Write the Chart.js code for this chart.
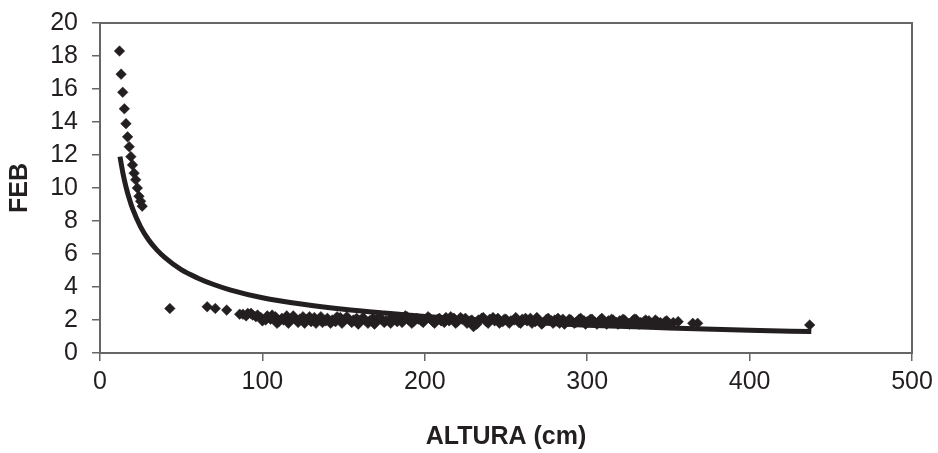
<!DOCTYPE html>
<html>
<head>
<meta charset="utf-8">
<script src="https://cdn.jsdelivr.net/npm/chart.js@4.4.0/dist/chart.umd.min.js"></script>
<style>
  html, body { margin: 0; padding: 0; background: #fff; }
  #wrap { width: 938px; height: 453px; }
</style>
</head>
<body>
<div id="wrap"><canvas id="grafico-feb"></canvas></div>
<script>
// puntos observados (altura en cm, FEB)
const alturaPuntos = [
  12, 13, 14, 15, 16, 17, 18, 19, 20, 21, 22, 23, 24, 25, 26,
  43, 66, 71, 78, 86,
  88, 91, 94, 96, 99, 100, 103, 105, 108, 110, 112, 115, 117, 120, 122, 125, 127, 130, 132, 135,
  137, 140, 143, 145, 148, 150, 153, 155, 158, 160, 163, 165, 168, 170, 173, 175, 178, 180, 183, 185,
  188, 190, 193, 195, 198, 200, 203, 205, 208, 210, 213, 215, 218, 220, 223, 225, 228, 230, 233, 235,
  238, 240, 243, 245, 248, 250, 253, 255, 258, 260, 263, 265, 268, 270, 273, 275, 278, 280, 283, 285,
  288, 290, 293, 295, 298, 300, 303, 305, 308, 310, 313, 315, 318, 320, 323, 325, 328, 330, 333, 335,
  338, 340, 343, 345, 348, 350, 353, 356, 365, 368, 437,
  90, 93, 97, 102, 106, 109, 113, 116, 119, 123, 126, 129, 133, 136, 139, 142, 146, 149, 152, 156,
  159, 162, 166, 169, 172, 176, 179, 182, 186, 189, 192, 196, 199, 202, 206, 209, 212, 216, 219, 222,
  226, 229, 232, 236, 239, 242, 246, 249, 252, 256, 259, 262, 266, 269, 272, 276, 279, 282, 286, 289,
  292, 296, 299, 302, 306, 309, 312, 316, 319, 322, 326, 329, 332, 336, 339, 342, 346, 349
];
const febPuntos = [
  18.3, 16.9, 15.8, 14.8, 13.9, 13.1, 12.5, 11.9, 11.4, 10.9, 10.5, 10.0, 9.5, 9.2, 8.9,
  2.7, 2.8, 2.7, 2.6, 2.35,
  2.35, 2.4, 2.3, 2.2, 2.15, 1.95, 2.25, 2.05, 2.2, 1.9, 2.1, 2.25, 1.95, 2.1, 1.85, 2.2, 2.0, 1.9, 2.15, 2.05,
  1.85, 2.1, 2.0, 1.9, 2.15, 1.95, 2.05, 1.85, 2.1, 1.95, 2.0, 1.8, 2.1, 1.9, 2.05, 1.85, 2.0, 2.15, 1.9, 2.05,
  2.25, 2.0, 1.9, 2.1, 1.95, 2.0, 2.1, 1.9, 2.05, 1.95, 2.15, 1.95, 2.1, 1.9, 2.05, 2.1, 1.95, 1.6, 2.0, 2.1,
  1.9, 2.05, 1.95, 2.1, 1.9, 2.05, 1.95, 2.0, 1.85, 2.05, 1.95, 2.1, 1.9, 2.0, 1.85, 2.05, 1.95, 2.0, 1.8, 2.05,
  1.9, 2.0, 1.85, 2.05, 1.95, 1.9, 2.05, 1.85, 2.0, 1.9, 1.95, 2.05, 1.85, 1.95, 2.0, 1.8, 1.95, 2.05, 1.85, 1.9,
  1.95, 1.8, 1.9, 1.85, 1.9, 1.8, 1.85, 1.9, 1.8, 1.8, 1.7,
  2.25, 2.4, 2.3, 2.0, 2.3, 1.8, 2.0, 1.8, 2.25, 2.05, 1.8, 2.2, 1.8, 2.2, 1.95, 1.8, 2.2, 1.8, 2.2, 2.0,
  1.75, 2.15, 1.95, 1.75, 2.2, 1.95, 1.8, 2.1, 1.85, 2.2, 1.8, 2.05, 1.85, 2.2, 1.8, 2.1, 1.85, 2.2, 1.8, 2.15,
  1.8, 2.0, 1.75, 2.15, 1.8, 2.15, 1.8, 2.05, 1.8, 2.15, 1.8, 2.1, 1.8, 2.15, 1.75, 2.1, 1.8, 2.1, 1.75, 2.05,
  1.8, 2.1, 1.75, 2.05, 1.75, 2.1, 1.75, 2.0, 1.75, 2.05, 1.75, 2.05, 1.75, 2.0, 1.75, 2.0, 1.75, 1.95
];

// curva de ajuste
const alturaCurva = [12.3, 14, 16, 18, 20, 25, 30, 35, 40, 50, 60, 70, 80, 100, 125, 150, 175, 200, 250, 300, 350, 400, 438];
const febCurva = [11.9, 10.96, 10.07, 9.36, 8.76, 7.65, 6.85, 6.25, 5.78, 5.05, 4.55, 4.15, 3.83, 3.35, 2.95, 2.65, 2.42, 2.22, 1.92, 1.68, 1.52, 1.38, 1.3];

// ticks
const ticksX = [0, 100, 200, 300, 400, 500];
const ticksY = [0, 2, 4, 6, 8, 10, 12, 14, 16, 18, 20];

const negro = '#231f20';
const gris = '#666666';
const fuente = 'Liberation Sans, Arial, sans-serif';

const puntos = alturaPuntos.map((x, i) => ({ x: x, y: febPuntos[i] }));
const curva = alturaCurva.map((x, i) => ({ x: x, y: febCurva[i] }));

// marco del area de trazado (arriba y derecha)
const marco = {
  id: 'marco',
  beforeDatasetsDraw(chart) {
    const { ctx, chartArea: a } = chart;
    ctx.save();
    ctx.strokeStyle = gris;
    ctx.lineWidth = 2;
    ctx.strokeRect(a.left, a.top, a.right - a.left, a.bottom - a.top);
    ctx.restore();
  }
};

const ctx = document.getElementById('grafico-feb');
new Chart(ctx, {
  type: 'scatter',
  data: {
    datasets: [
      {
        data: curva,
        showLine: true,
        borderColor: negro,
        borderWidth: 5,
        pointRadius: 0,
        tension: 0.4,
        cubicInterpolationMode: 'monotone'
      },
      {
        data: puntos,
        pointStyle: 'rectRot',
        pointRadius: 5.3,
        backgroundColor: negro,
        borderColor: negro,
        borderWidth: 0.5
      }
    ]
  },
  options: {
    responsive: true,
    maintainAspectRatio: false,
    animation: false,
    events: [],
    layout: { padding: { top: 23, right: 26, left: 0, bottom: 0 } },
    plugins: { legend: { display: false }, tooltip: { enabled: false } },
    scales: {
      x: {
        type: 'linear',
        min: 0,
        max: 500,
        afterFit: s => { s.height = 100; s.paddingLeft = 0; s.paddingRight = 0; },
        afterBuildTicks: s => { s.ticks = ticksX.map(v => ({ value: v })); },
        grid: { drawOnChartArea: false, drawTicks: true, tickLength: 8, color: gris, lineWidth: 1.5 },
        border: { color: gris, width: 2 },
        ticks: { color: negro, padding: 6, maxRotation: 0, autoSkip: false, font: { family: fuente, size: 25 } },
        title: {
          display: true,
          text: 'ALTURA (cm)',
          color: negro,
          padding: { top: 0, bottom: 1 },
          font: { family: fuente, size: 25, weight: 'bold' }
        }
      },
      y: {
        type: 'linear',
        min: 0,
        max: 20,
        afterFit: s => { s.width = 100; s.paddingTop = 0; s.paddingBottom = 0; },
        afterBuildTicks: s => { s.ticks = ticksY.map(v => ({ value: v })); },
        grid: { drawOnChartArea: false, drawTicks: true, tickLength: 8, color: gris, lineWidth: 1.5 },
        border: { color: gris, width: 2 },
        ticks: { color: negro, padding: 14, autoSkip: false, font: { family: fuente, size: 25 } },
        title: {
          display: true,
          text: 'FEB',
          color: negro,
          padding: { top: 5, bottom: 0 },
          font: { family: fuente, size: 25, weight: 'bold' }
        }
      }
    }
  },
  plugins: [marco]
});
</script>
</body>
</html>
